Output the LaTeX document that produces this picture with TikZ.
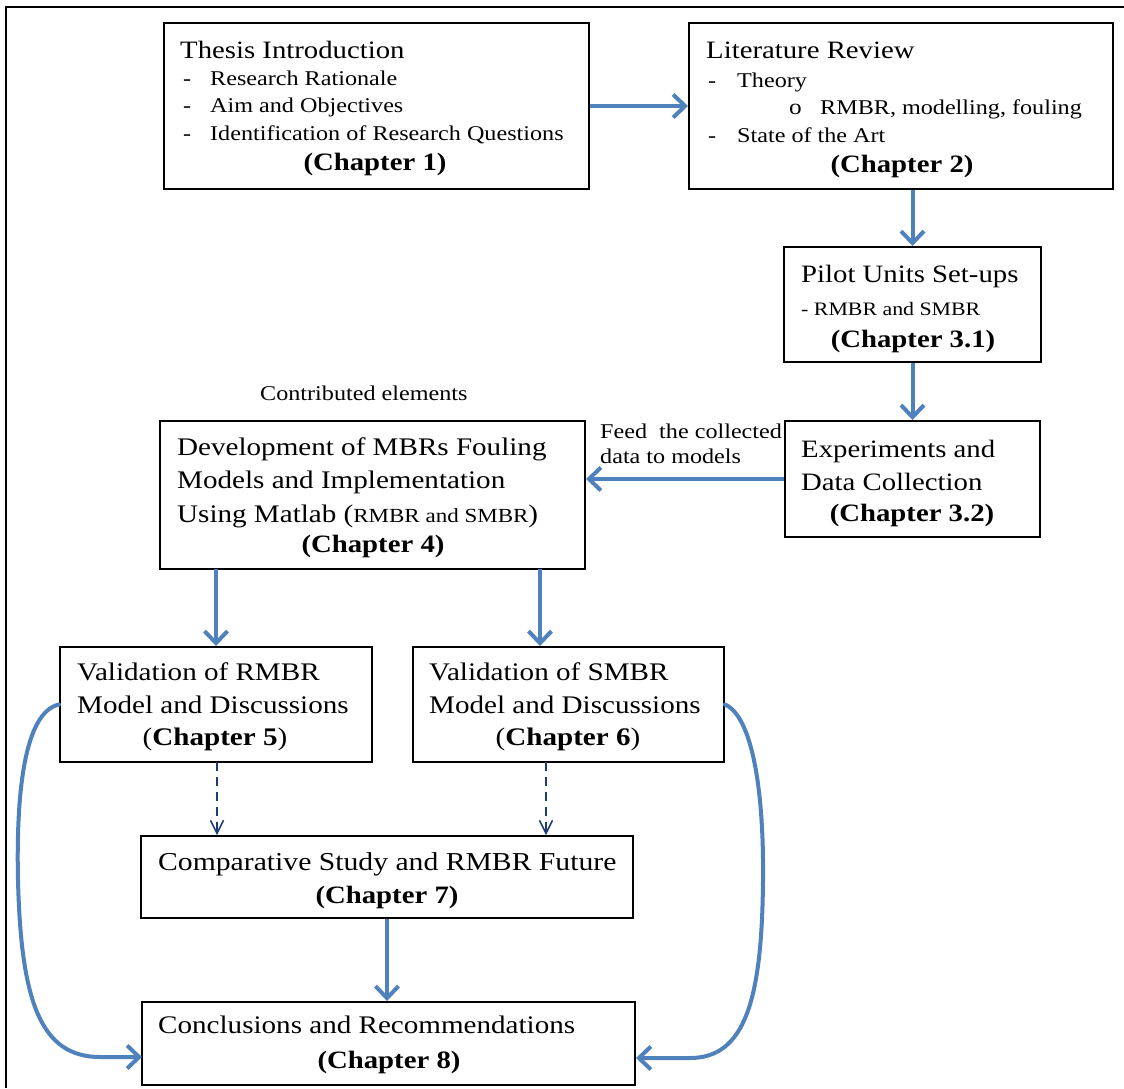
\documentclass[tikz,border=0pt]{standalone}
\usepackage{fontspec}
\setmainfont[FakeStretch=1.15]{Liberation Serif}
\usetikzlibrary{arrows.meta,fit}
\definecolor{arrowblue}{HTML}{4F81BD}
\definecolor{navyline}{HTML}{1F3A78}
\begin{document}
\begin{tikzpicture}[x=1pt,y=-1pt,
  box/.style={draw=black, line width=2pt, inner sep=0pt},
  ttl/.style={anchor=base west, inner sep=0pt, font=\fontsize{25}{30}\selectfont},
  itm/.style={anchor=base west, inner sep=0pt, font=\fontsize{21}{25}\selectfont},
  chap/.style={anchor=base, inner sep=0pt, font=\fontsize{25}{30}\selectfont\bfseries},
  big/.style={anchor=base west, inner sep=0pt, font=\fontsize{25.3}{30}\selectfont},
  flow/.style={draw=arrowblue, line width=4pt, -{Straight Barb[length=12pt,width=23pt]}},
  dflow/.style={draw=navyline, line width=1.5pt, dash pattern=on 9pt off 6pt, -{Straight Barb[length=13pt,width=13pt]}}]
\useasboundingbox (0,0) rectangle (1124,1088);
\fill[white] (0,0) rectangle (1124,1088);
% outer frame (top and left edges visible)
\draw[line width=2pt] (6,1088) -- (6,7) -- (1124,7);

% boxes
\node[box, fit={(164,23) (589,189)}] (b1) {};
\node[box, fit={(689,23) (1113,189)}] (b2) {};
\node[box, fit={(784,247) (1041,362)}] (b3) {};
\node[box, fit={(785,421) (1040,537)}] (b4) {};
\node[box, fit={(160,421) (585,569)}] (b5) {};
\node[box, fit={(60,647) (372,762)}] (b6) {};
\node[box, fit={(413,647) (724,762)}] (b7) {};
\node[box, fit={(141,836) (633,918)}] (b8) {};
\node[box, fit={(142,1002) (635,1085)}] (b9) {};

% box 1 text
\node[ttl] (t1) at (180,58) {Thesis Introduction};
\node[itm] (t1d1) at (183,85) {-};
\node[itm] (t1a) at (210,85) {Research Rationale};
\node[itm] (t1d2) at (183,112) {-};
\node[itm] (t1b) at (210,112) {Aim and Objectives};
\node[itm] (t1d3) at (183,140) {-};
\node[itm] (t1c) at (210,140) {Identification of Research Questions};
\node[chap] (c1) at (375,170) {(Chapter 1)};

% box 2 text
\node[ttl] (t2) at (706,58) {Literature Review};
\node[itm] (t2d1) at (708,87) {-};
\node[itm] (t2a) at (737,87) {Theory};
\node[itm, font=\fontsize{22}{25}\selectfont] (t2o) at (789,114) {o};
\node[itm] (t2b) at (820,114) {RMBR, modelling, fouling};
\node[itm] (t2d2) at (708,142) {-};
\node[itm] (t2c) at (737,142) {State of the Art};
\node[chap] (c2) at (902,172) {(Chapter 2)};

% box 3 text
\node[ttl] (t3) at (801,282) {Pilot Units Set-ups};
\node[itm, font=\fontsize{19}{23}\selectfont] (t3a) at (801,315) {- RMBR and SMBR};
\node[chap] (c3) at (913,347) {(Chapter 3.1)};

% box 4 text
\node[ttl] (t4a) at (801,457) {Experiments and};
\node[ttl] (t4b) at (801,490) {Data Collection};
\node[chap] (c4) at (912,521) {(Chapter 3.2)};

% box 5 text
\node[big] (t5a) at (177,455) {Development of MBRs Fouling};
\node[big] (t5b) at (177,488) {Models and Implementation};
\node[big] (t5c) at (177,522) {Using Matlab ({\fontsize{20}{24}\selectfont RMBR and SMBR})};
\node[chap] (c5) at (373,552) {(Chapter 4)};

% box 6 text
\node[big] (t6a) at (77,680) {Validation of RMBR};
\node[big] (t6b) at (77,713) {Model and Discussions};
\node[big, anchor=base] (c6) at (215,745) {(\textbf{Chapter 5})};

% box 7 text
\node[big] (t7a) at (429,680) {Validation of SMBR};
\node[big] (t7b) at (429,713) {Model and Discussions};
\node[big, anchor=base] (c7) at (568,745) {(\textbf{Chapter 6})};

% box 8 text
\node[big, font=\fontsize{25.8}{30}\selectfont] (t8) at (158,870) {Comparative Study and RMBR Future};
\node[chap] (c8) at (387,903) {(Chapter 7)};

% box 9 text
\node[big] (t9) at (158,1033) {Conclusions and Recommendations};
\node[chap] (c9) at (389,1068) {(Chapter 8)};

% free labels
\node[itm] (lab1) at (260,400) {Contributed elements};
\node[itm] (lab2) at (600,438) {Feed~ the collected};
\node[itm] (lab3) at (600,463) {data to models};

% connector points
\coordinate (s5a) at (216,569);
\coordinate (s5b) at (540,569);
\coordinate (d1) at (217,762);
\coordinate (d2) at (546,762);
\coordinate (l9) at (142,1057);
\coordinate (r9) at (636,1058);

% solid arrows
\draw[flow] (b1.east) -- (b2.west);
\draw[flow] (b3.north |- b2.south) -- (b3.north);
\draw[flow] (b3.south) -- (b4.north);
\draw[flow] (b4.west) -- (b4.west -| b5.east);
\draw[flow] (s5a) -- (s5a |- b6.north);
\draw[flow] (s5b) -- (s5b |- b7.north);
\draw[flow] (b8.south) -- (b8.south |- b9.north);

% dashed arrows
\draw[dflow] (d1) -- (d1 |- b8.north);
\draw[dflow] (d2) -- (d2 |- b8.north);

% curved arrows
\draw[flow, line cap=round] (b6.west) .. controls (25,712) and (16,790) .. (18,880)
  .. controls (21,1000) and (40,1057) .. (100,1057) -- (l9);
\draw[flow, line cap=round] (b7.east) .. controls (752,716) and (764,790) .. (763,880)
  .. controls (762,1000) and (745,1058) .. (690,1058) -- (r9);
\end{tikzpicture}
\end{document}
